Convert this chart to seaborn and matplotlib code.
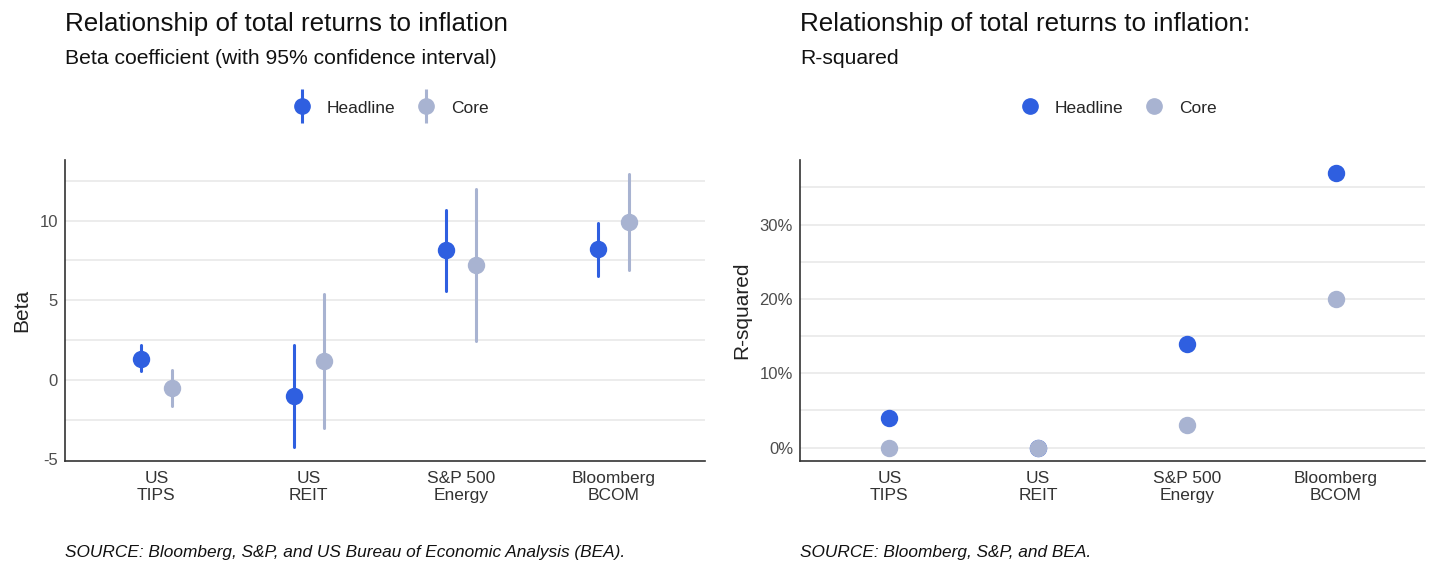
import numpy as np
import pandas as pd
import matplotlib
matplotlib.use("Agg")
import matplotlib.pyplot as plt
from matplotlib.lines import Line2D
from matplotlib.legend_handler import HandlerTuple
from matplotlib.ticker import FuncFormatter
import seaborn as sns

# --- data ---
assets = ["US\nTIPS", "US\nREIT", "S&P 500\nEnergy", "Bloomberg\nBCOM"]
series = ["Headline", "Core"]

beta_headline = [1.31, -1.04, 8.13, 8.19]
beta_headline_lo = [0.54, -4.21, 5.58, 6.52]
beta_headline_hi = [2.19, 2.19, 10.63, 9.85]
beta_core = [-0.52, 1.21, 7.21, 9.92]
beta_core_lo = [-1.67, -3.00, 2.46, 6.92]
beta_core_hi = [0.63, 5.38, 11.98, 12.92]

rsq_headline = [0.040, 0.000, 0.140, 0.369]
rsq_core = [0.000, 0.000, 0.030, 0.200]

colors = {"Headline": "#2F5FE0", "Core": "#A8B3D1"}

sns.set_style("white")
plt.rcParams["font.family"] = ["Liberation Sans", "DejaVu Sans"]

# long-form frame: (lo, est, hi) per group; median = estimate, 100% interval = CI
rows = []
for s, est, lo, hi in [("Headline", beta_headline, beta_headline_lo, beta_headline_hi),
                       ("Core", beta_core, beta_core_lo, beta_core_hi)]:
    for a, e, l, h in zip(assets, est, lo, hi):
        for v in (l, e, h):
            rows.append({"asset": a, "series": s, "beta": v})
beta_df = pd.DataFrame(rows)

rsq_df = pd.DataFrame(
    [{"asset": a, "series": "Headline", "rsq": v} for a, v in zip(assets, rsq_headline)]
    + [{"asset": a, "series": "Core", "rsq": v} for a, v in zip(assets, rsq_core)]
)

fig = plt.figure(figsize=(14.33, 5.65), dpi=100)
ax1 = fig.add_axes([65 / 1433, 104 / 565, 640 / 1433, 301 / 565])
ax2 = fig.add_axes([800 / 1433, 104 / 565, 625 / 1433, 301 / 565])

sns.pointplot(data=beta_df, x="asset", y="beta", hue="series", order=assets,
              hue_order=series, palette=colors, estimator="median",
              errorbar=("pi", 100), dodge=0.2, linestyle="none", markers="o",
              markersize=10.5, err_kws={"linewidth": 2.2}, legend=False, ax=ax1)

sns.pointplot(data=rsq_df, x="asset", y="rsq", hue="series", order=assets,
              hue_order=series, palette=colors, errorbar=None, dodge=False,
              linestyle="none", markers="o", markersize=10.5, legend=False, ax=ax2)

grid_kw = dict(color="#EBEBEB", lw=1.3, zorder=0)

ax1.set_xlim(-0.6, 3.6)
ax1.set_ylim(-5.1, 13.8)
ax1.set_yticks([-5, 0, 5, 10])
for y in [-2.5, 0, 2.5, 5, 7.5, 10, 12.5]:
    ax1.axhline(y, **grid_kw)
ax1.yaxis.set_major_formatter(FuncFormatter(lambda v, p: f"{v:.0f}"))
ax1.set_ylabel("Beta", fontsize=15, color="#222222", labelpad=6)

ax2.set_xlim(-0.6, 3.6)
ax2.set_ylim(-0.018, 0.387)
ax2.set_yticks([0, 0.1, 0.2, 0.3])
for y in [0, 0.05, 0.1, 0.15, 0.2, 0.25, 0.3, 0.35]:
    ax2.axhline(y, **grid_kw)
ax2.yaxis.set_major_formatter(FuncFormatter(lambda v, p: f"{v * 100:.0f}%"))
ax2.set_ylabel("R-squared", fontsize=15, color="#222222", labelpad=6)

for ax in (ax1, ax2):
    ax.set_xlabel("")
    sns.despine(ax=ax)
    for sp in ("left", "bottom"):
        ax.spines[sp].set_color("#333333")
        ax.spines[sp].set_linewidth(1.2)
    ax.tick_params(axis="x", length=4, width=1, color="#333333", labelsize=12.5,
                   labelcolor="#333333", pad=3)
    ax.tick_params(axis="y", length=3, width=1, color="#333333", labelsize=12,
                   labelcolor="#4D4D4D", pad=2)
    ax.grid(False)

# legends
def handles(with_bar):
    out = []
    for s in series:
        dot = Line2D([], [], marker="o", color=colors[s], ls="none", markersize=11)
        if with_bar:
            bar = Line2D([], [], marker="|", color=colors[s], ls="none",
                         markersize=24, markeredgewidth=2.2)
            out.append((bar, dot))
        else:
            out.append(dot)
    return out

leg_kw = dict(loc="center", ncol=2, frameon=False, fontsize=12.5, handlelength=1.2,
              columnspacing=1.2, handletextpad=0.8)
fig.legend(handles(True), series, handler_map={tuple: HandlerTuple(ndivide=1, pad=0)},
           bbox_to_anchor=(390 / 1433, 1 - 108 / 565), **leg_kw)
fig.legend(handles(False), series, bbox_to_anchor=(1118 / 1433, 1 - 108 / 565), **leg_kw)

# titles and sources
fig.text(65 / 1433, 1 - 24 / 565, "Relationship of total returns to inflation",
         fontsize=18.7, va="center", color="#111111")
fig.text(65 / 1433, 1 - 59 / 565, "Beta coefficient (with 95% confidence interval)",
         fontsize=15.2, va="center", color="#111111")
fig.text(800 / 1433, 1 - 24 / 565, "Relationship of total returns to inflation:",
         fontsize=18.7, va="center", color="#111111")
fig.text(800 / 1433, 1 - 59 / 565, "R-squared", fontsize=15.2, va="center", color="#111111")
fig.text(65 / 1433, 1 - 552 / 565,
         "SOURCE: Bloomberg, S&P, and US Bureau of Economic Analysis (BEA).",
         fontsize=12.4, style="italic", va="center", color="#111111")
fig.text(800 / 1433, 1 - 552 / 565, "SOURCE: Bloomberg, S&P, and BEA.",
         fontsize=12.4, style="italic", va="center", color="#111111")

fig.savefig("out.png", dpi=100)
